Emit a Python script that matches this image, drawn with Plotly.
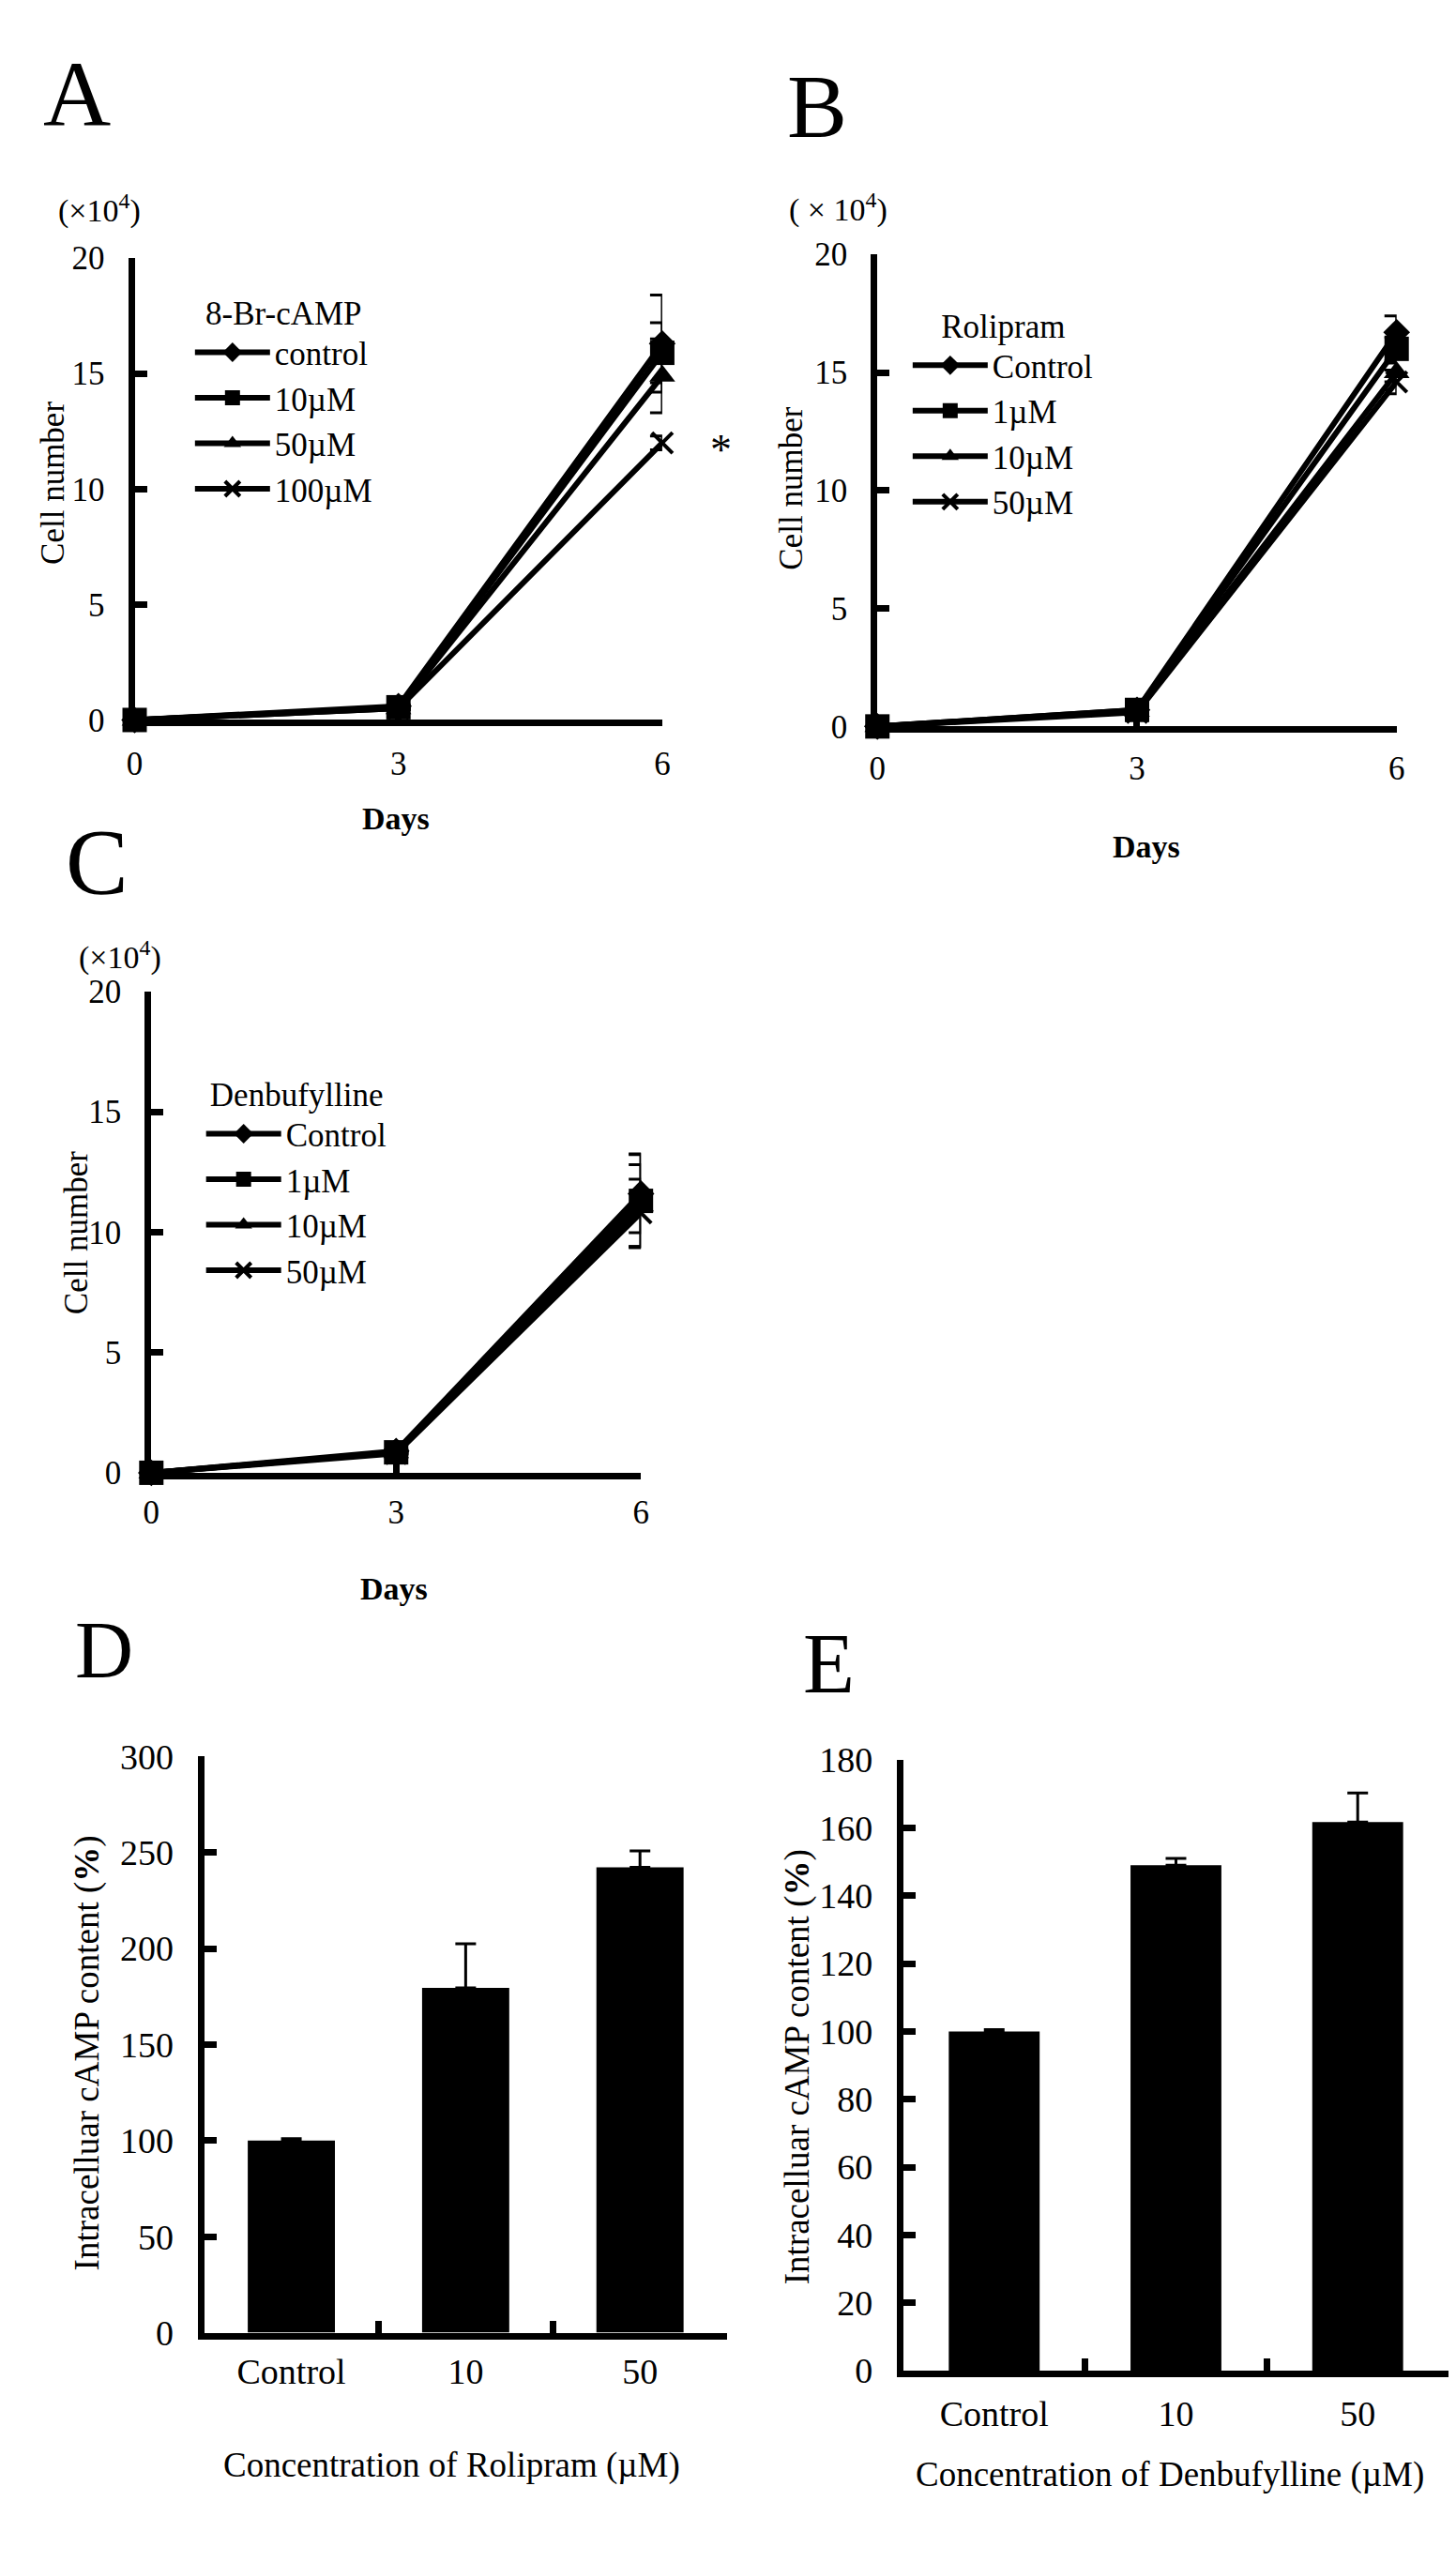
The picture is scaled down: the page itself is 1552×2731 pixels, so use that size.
import plotly.graph_objects as go

W, H = 1552, 2731
FONT = "Liberation Serif, Times New Roman, serif"

days = [0, 3, 6]

# Panel A: 8-Br-cAMP
a_names = ["control", "10µM", "50µM", "100µM"]
a_vals = [
    [0, 0.6, 16.3],
    [0, 0.55, 15.9],
    [0, 0.5, 14.9],
    [0, 0.5, 12.0],
]
a_errs = [
    [0, 0.05, 2.1],
    [0, 0.05, 1.3],
    [0, 0.05, 1.6],
    [0, 0.05, 0.3],
]

# Panel B: Rolipram
b_names = ["Control", "1µM", "10µM", "50µM"]
b_vals = [
    [0, 0.7, 16.7],
    [0, 0.7, 16.0],
    [0, 0.65, 15.0],
    [0, 0.6, 14.6],
]
b_errs = [
    [0, 0.05, 0.7],
    [0, 0.05, 0.5],
    [0, 0.05, 0.4],
    [0, 0.05, 0.5],
]

# Panel C: Denbufylline
c_names = ["Control", "1µM", "10µM", "50µM"]
c_vals = [
    [0, 0.9, 11.6],
    [0, 0.85, 11.3],
    [0, 0.85, 11.1],
    [0, 0.8, 10.8],
]
c_errs = [
    [0, 0.05, 1.62],
    [0, 0.05, 1.95],
    [0, 0.05, 1.7],
    [0, 0.05, 1.4],
]

# Panel D / E: intracellular cAMP
conc_cats = ["Control", "10", "50"]
d_vals = [100, 179.5, 242.3]
d_errs = [1, 23, 8.5]
e_vals = [100, 149.0, 161.7]
e_errs = [0.5, 2.0, 8.6]

symbols = ["diamond", "square", "triangle-up", "x-thin"]
sizes = [22, 26, 24, 22]

fig = go.Figure()


def add_lines(names, vals, errs, xa, ya, legend):
    for i, (n, v, e) in enumerate(zip(names, vals, errs)):
        fig.add_trace(go.Scatter(
            x=days, y=v, name=n, mode="lines+markers",
            xaxis=xa, yaxis=ya, legend=legend,
            line=dict(color="black", width=6),
            marker=dict(symbol=symbols[i], size=sizes[i], color="black",
                        line=dict(color="black", width=4 if symbols[i] == "x-thin" else 0)),
            error_y=dict(type="data", array=e, visible=True, color="black",
                         thickness=3, width=13),
            cliponaxis=False,
        ))


add_lines(a_names, a_vals, a_errs, "x", "y", "legend")
add_lines(b_names, b_vals, b_errs, "x2", "y2", "legend2")
add_lines(c_names, c_vals, c_errs, "x3", "y3", "legend3")

fig.add_trace(go.Bar(
    x=conc_cats, y=d_vals, xaxis="x4", yaxis="y4", width=0.5,
    marker=dict(color="black", line=dict(width=0)), showlegend=False,
    error_y=dict(type="data", array=d_errs, arrayminus=[0, 0, 0], symmetric=False,
                 color="black", thickness=3, width=11),
))
fig.add_trace(go.Bar(
    x=conc_cats, y=e_vals, xaxis="x5", yaxis="y5", width=0.5,
    marker=dict(color="black", line=dict(width=0)), showlegend=False,
    error_y=dict(type="data", array=e_errs, arrayminus=[0, 0, 0], symmetric=False,
                 color="black", thickness=3, width=11),
))


def xd(a, b):
    return [a / W, b / W]


def yd(bottom, top):
    return [1 - bottom / H, 1 - top / H]


def common(fs):
    return dict(showline=True, linewidth=7, linecolor="black", ticks="inside",
                tickwidth=7, tickcolor="black", ticklen=13, showgrid=False,
                zeroline=False, tickfont=dict(family=FONT, size=fs, color="black"))


layout_axes = dict(
    xaxis=dict(domain=xd(128, 697), range=[0, 6], tickvals=[0, 3, 6], anchor="y",
               ticklabelstandoff=10, **common(35)),
    yaxis=dict(domain=yd(750, 250), range=[0, 20], tickvals=[0, 5, 10, 15, 20], anchor="x",
               ticklabelstandoff=18, **common(35)),
    xaxis2=dict(domain=xd(929, 1489), range=[0, 6], tickvals=[0, 3, 6], anchor="y2",
                ticklabelstandoff=8, **common(35)),
    yaxis2=dict(domain=yd(757, 246), range=[0, 20], tickvals=[0, 5, 10, 15, 20], anchor="x2",
                ticklabelstandoff=18, **common(35)),
    xaxis3=dict(domain=xd(146, 674), range=[0, 6], tickvals=[0, 3, 6], anchor="y3",
                ticklabelstandoff=5, **common(35)),
    yaxis3=dict(domain=yd(1565, 1044), range=[0, 20], tickvals=[0, 5, 10, 15, 20], anchor="x3",
                ticklabelstandoff=18, **common(35)),
    xaxis4=dict(domain=xd(203, 767), range=[-0.5, 2.5], type="category", tickson="boundaries",
                anchor="y4", ticklabelstandoff=2, **common(38)),
    yaxis4=dict(domain=yd(2496, 1872), range=[0, 300], dtick=50, anchor="x4",
                ticklabelstandoff=18, **common(38)),
    xaxis5=dict(domain=xd(957, 1545), range=[-0.5, 2.5], type="category", tickson="boundaries",
                anchor="y5", ticklabelstandoff=6, **common(38)),
    yaxis5=dict(domain=yd(2537, 1876), range=[0, 180], dtick=20, anchor="x5",
                ticklabelstandoff=18, **common(38)),
)

legfont = dict(family=FONT, size=35, color="black")


def leg(title, x, y):
    return dict(x=x / W, y=1 - y / H, xanchor="left", yanchor="top",
                bgcolor="rgba(0,0,0,0)", font=legfont,
                title=dict(text=title, font=legfont, side="top center"),
                itemwidth=80, tracegroupgap=0)


anns = []


def ann(text, x, y, size=35, angle=0, bold=False):
    anns.append(dict(text=f"<b>{text}</b>" if bold else text, x=x / W, y=1 - y / H,
                     xref="paper", yref="paper", showarrow=False, xanchor="center",
                     yanchor="middle", textangle=angle,
                     font=dict(family=FONT, size=size, color="black")))


# panel letters
ann("A", 66, 73, 100)
ann("B", 864, 86, 96)
ann("C", 88, 903, 100)
ann("D", 95, 1757, 86)
ann("E", 877, 1772, 90)

# scale labels
ann("(×10<sup>4</sup>)", 90, 197, 34)
ann("( × 10<sup>4</sup>)", 887, 195, 34)
ann("(×10<sup>4</sup>)", 112, 1005, 34)

# axis titles
ann("Cell number", 40, 494, 35, -90)
ann("Days", 410, 857, 34, bold=True)
ann("Cell number", 836, 499, 35, -90)
ann("Days", 1219, 887, 34, bold=True)
ann("Cell number", 66, 1305, 35, -90)
ann("Days", 408, 1691, 34, bold=True)
ann("Intracelluar cAMP content (<b>%</b>)", 77, 2193, 37, -90)
ann("Concentration of Rolipram (µM)", 470, 2640, 37)
ann("Intracelluar cAMP content (<b>%</b>)", 843, 2208, 37, -90)
ann("Concentration of Denbufylline (µM)", 1244, 2650, 37)

# significance mark
ann("*", 760, 458, 46)

fig.update_layout(
    width=W, height=H, margin=dict(l=0, r=0, t=0, b=0),
    paper_bgcolor="white", plot_bgcolor="white",
    font=dict(family=FONT, color="black"),
    legend=leg("8-Br-cAMP", 188, 276),
    legend2=leg("Rolipram", 962, 290),
    legend3=leg("Denbufylline", 200, 1122),
    annotations=anns,
    bargap=0.5,
    **layout_axes,
)

fig.write_html("out.html")
